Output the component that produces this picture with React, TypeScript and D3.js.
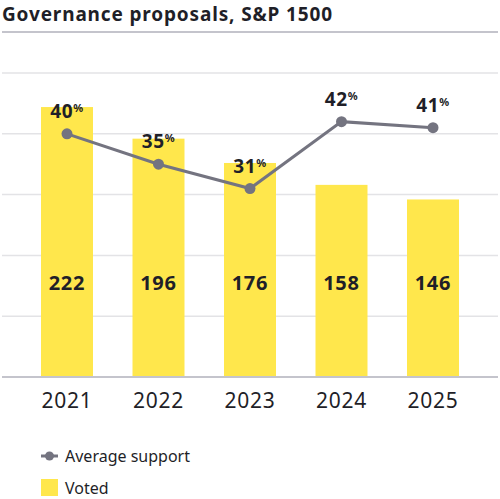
import * as d3 from "d3";

const years = ["2021", "2022", "2023", "2024", "2025"];
const voted = [222, 196, 176, 158, 146];
const avgSupport = [40, 35, 31, 42, 41];
const gridTicks = [50, 100, 150, 200, 250];

const W = 500;
const H = 499;
const FONT = "'Noto Sans', sans-serif";
const YELLOW = "#ffe74c";
const GRAY = "#747480";
const TEXT = "#1f1f28";

export default function App() {
  const base = 377;
  const top = 73;
  const barW = 52;

  const x = d3
    .scaleBand<string>()
    .domain(years)
    .range([21.25, 478.75])
    .paddingInner(0.432)
    .paddingOuter(0.216);
  const cx = (d: string) => (x(d) || 0) + x.bandwidth() / 2;

  const yBar = d3.scaleLinear().domain([0, 250]).range([base, top]);
  const yPct = d3.scaleLinear().domain([0, 50]).range([base, top]);

  const pts = years.map((yr, i) => ({ yr, v: avgSupport[i] }));
  const line = d3
    .line<{ yr: string; v: number }>()
    .x((d) => cx(d.yr))
    .y((d) => yPct(d.v));

  return (
    <div style={{ position: "absolute", left: 0, top: 0 }}>
      <svg width={W} height={H} style={{ display: "block", fontFamily: FONT }}>
        <rect width={W} height={H} fill="#fff" />

        {/* title */}
        <text x={2} y={20.5} fontSize={19} fontWeight={700} letterSpacing={0.85} fill={TEXT}>
          Governance proposals, S&amp;P 1500
        </text>
        <line x1={2} x2={498} y1={32} y2={32} stroke="#c4c4cc" strokeWidth={2} />

        {/* grid */}
        {gridTicks.map((t) => (
          <line
            key={t}
            x1={2}
            x2={498}
            y1={yBar(t)}
            y2={yBar(t)}
            stroke="#e3e3e6"
            strokeWidth={1.5}
          />
        ))}

        {/* bars */}
        {years.map((yr, i) => (
          <rect
            key={yr}
            x={cx(yr) - barW / 2}
            y={yBar(voted[i])}
            width={barW}
            height={base - yBar(voted[i])}
            fill={YELLOW}
          />
        ))}

        {/* baseline */}
        <line x1={2} x2={498} y1={base} y2={base} stroke="#c4c4cc" strokeWidth={2} />

        {/* bar values */}
        {years.map((yr, i) => (
          <text
            key={yr}
            x={cx(yr)}
            y={base - 87}
            textAnchor="middle"
            fontSize={20}
            fontWeight={700}
            letterSpacing={0.8}
            fill={TEXT}
          >
            {voted[i]}
          </text>
        ))}

        {/* x axis labels */}
        {years.map((yr) => (
          <text
            key={yr}
            x={cx(yr)}
            y={base + 31}
            textAnchor="middle"
            fontSize={21}
            letterSpacing={0.8}
            fill={TEXT}
          >
            {yr}
          </text>
        ))}

        {/* average support line */}
        <path d={line(pts) || ""} fill="none" stroke={GRAY} strokeWidth={3} />
        {pts.map((p) => (
          <circle key={p.yr} cx={cx(p.yr)} cy={yPct(p.v)} r={5.5} fill={GRAY} />
        ))}
        {pts.map((p) => (
          <text
            key={p.yr}
            x={cx(p.yr)}
            y={yPct(p.v) - 16}
            textAnchor="middle"
            fontSize={19}
            fontWeight={700}
            letterSpacing={0.6}
            fill={TEXT}
          >
            {p.v}
            <tspan fontSize={11} dy={-6}>
              %
            </tspan>
          </text>
        ))}

        {/* legend */}
        <line x1={41} x2={58} y1={456} y2={456} stroke={GRAY} strokeWidth={3} />
        <circle cx={49.5} cy={456} r={4.5} fill={GRAY} />
        <text x={65} y={462} fontSize={16} fill={TEXT}>
          Average support
        </text>
        <rect x={41} y={479} width={17} height={17} fill={YELLOW} />
        <text x={65} y={494} fontSize={16} fill={TEXT}>
          Voted
        </text>
      </svg>
    </div>
  );
}
